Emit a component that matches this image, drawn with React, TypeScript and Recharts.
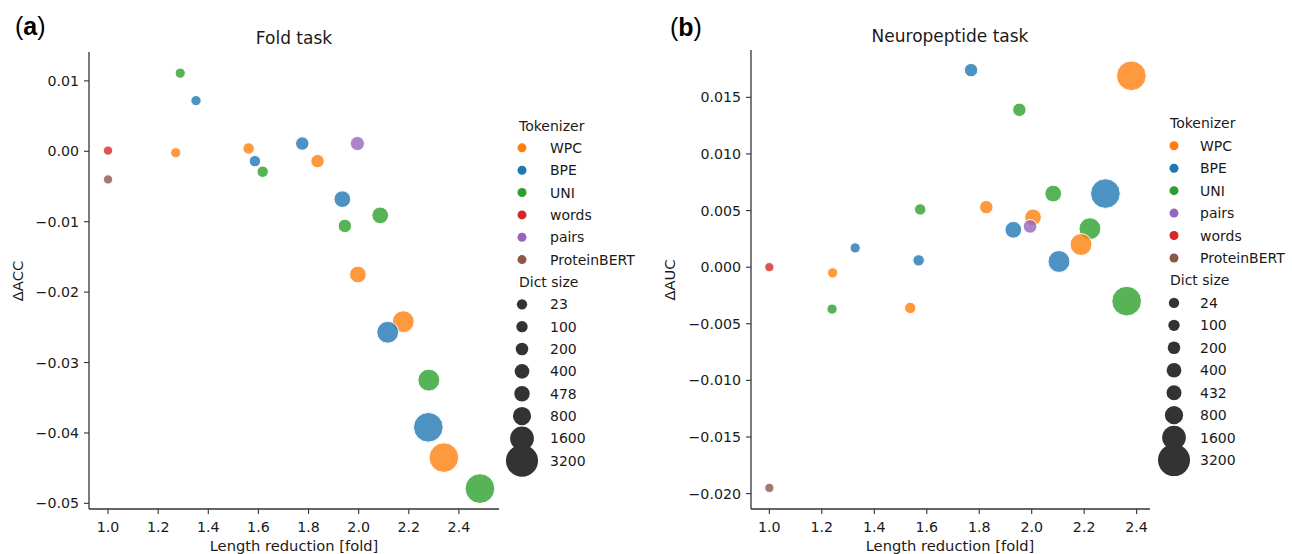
import React from "react";
import { ScatterChart, Scatter, XAxis, YAxis, ZAxis } from "recharts";

const COLORS: Record<string, string> = {
  WPC: "#ff7f0e",
  BPE: "#1f77b4",
  UNI: "#2ca02c",
  words: "#d62728",
  pairs: "#9467bd",
  ProteinBERT: "#8c564b",
};

// drawing order (later = on top)
const DRAW_ORDER = ["UNI", "WPC", "BPE", "words", "pairs", "ProteinBERT"];

const VOCAB = [100, 200, 400, 800, 1600, 3200];

// Fold task
const FOLD_LEGEND = ["WPC", "BPE", "UNI", "words", "pairs", "ProteinBERT"];
const FOLD_SIZES = [23, 100, 200, 400, 478, 800, 1600, 3200];
const FOLD_WPC_X = [1.27, 1.561, 1.836, 1.997, 2.178, 2.34];
const FOLD_WPC_Y = [-0.0002, 0.0004, -0.0014, -0.0175, -0.0242, -0.0435];
const FOLD_BPE_X = [1.351, 1.586, 1.775, 1.935, 2.116, 2.278];
const FOLD_BPE_Y = [0.0072, -0.0014, 0.0011, -0.0068, -0.0257, -0.0392];
const FOLD_UNI_X = [1.288, 1.617, 1.945, 2.086, 2.28, 2.484];
const FOLD_UNI_Y = [0.0111, -0.0029, -0.0106, -0.0091, -0.0325, -0.0479];
const FOLD_WORDS = { x: [1.0], y: [0.0001], z: [23] };
const FOLD_PAIRS = { x: [1.995], y: [0.0011], z: [478] };
const FOLD_PBERT = { x: [1.0], y: [-0.004], z: [23] };
const FOLD_Y_TICKS = [-0.05, -0.04, -0.03, -0.02, -0.01, 0, 0.01];

// Neuropeptide task
const NEURO_LEGEND = ["WPC", "BPE", "UNI", "pairs", "words", "ProteinBERT"];
const NEURO_SIZES = [24, 100, 200, 400, 432, 800, 1600, 3200];
const NEURO_WPC_X = [1.241, 1.537, 1.827, 2.005, 2.188, 2.38];
const NEURO_WPC_Y = [-0.0005, -0.0036, 0.0053, 0.0044, 0.002, 0.0169];
const NEURO_BPE_X = [1.327, 1.569, 1.769, 1.93, 2.104, 2.281];
const NEURO_BPE_Y = [0.0017, 0.0006, 0.0174, 0.0033, 0.0005, 0.0065];
const NEURO_UNI_X = [1.239, 1.575, 1.953, 2.082, 2.222, 2.362];
const NEURO_UNI_Y = [-0.0037, 0.0051, 0.0139, 0.0065, 0.0034, -0.003];
const NEURO_WORDS = { x: [1.0], y: [0.0], z: [24] };
const NEURO_PAIRS = { x: [1.994], y: [0.0036], z: [432] };
const NEURO_PBERT = { x: [1.0], y: [-0.0195], z: [24] };
const NEURO_Y_TICKS = [-0.02, -0.015, -0.01, -0.005, 0, 0.005, 0.01, 0.015];

const X_TICKS = [1.0, 1.2, 1.4, 1.6, 1.8, 2.0, 2.2, 2.4];

const FONT = "DejaVu Sans, sans-serif";
const AXIS_COLOR = "#333";
const TEXT_COLOR = "#1a1a1a";

type Pt = { x: number; y: number; z: number };
const rows = (xs: number[], ys: number[], zs: number[]): Pt[] =>
  xs.map((x, i) => ({ x, y: ys[i], z: zs[i] }));

const fmtY = (d: number) => (v: number) => {
  const s = Math.abs(v).toFixed(d);
  return v < -1e-9 ? "\u2212" + s : s;
};

interface PanelProps {
  left: number;
  width: number;
  margin: { top: number; right: number; bottom: number; left: number };
  yAxisWidth: number;
  xDomain: [number, number];
  yDomain: [number, number];
  yTicks: number[];
  yDecimals: number;
  series: Record<string, Pt[]>;
}

function Panel(p: PanelProps) {
  const tickStyle = { fontSize: 14.2, fill: TEXT_COLOR, fontFamily: FONT };
  return (
    <div style={{ position: "absolute", left: p.left, top: 0 }}>
      <ScatterChart width={p.width} height={554} margin={p.margin}>
        <XAxis
          type="number"
          dataKey="x"
          domain={p.xDomain}
          allowDataOverflow
          ticks={X_TICKS}
          interval={0}
          tickFormatter={(v: number) => v.toFixed(1)}
          height={45}
          tickSize={5}
          tickMargin={8}
          tick={tickStyle}
          stroke={AXIS_COLOR}
          axisLine={{ stroke: AXIS_COLOR, strokeWidth: 1.3 }}
          tickLine={{ stroke: AXIS_COLOR, strokeWidth: 1.1 }}
        />
        <YAxis
          type="number"
          dataKey="y"
          domain={p.yDomain}
          allowDataOverflow
          ticks={p.yTicks}
          interval={0}
          tickFormatter={fmtY(p.yDecimals)}
          width={p.yAxisWidth}
          tickSize={5}
          tickMargin={5}
          tick={tickStyle}
          stroke={AXIS_COLOR}
          axisLine={{ stroke: AXIS_COLOR, strokeWidth: 1.3 }}
          tickLine={{ stroke: AXIS_COLOR, strokeWidth: 1.1 }}
        />
        <ZAxis type="number" dataKey="z" domain={[0, 3200]} range={[63, 691]} />
        {DRAW_ORDER.map((name) => (
          <Scatter
            key={name}
            name={name}
            data={p.series[name]}
            fill={COLORS[name]}
            fillOpacity={0.8}
            stroke="#ffffff"
            strokeWidth={1}
            isAnimationActive={false}
          />
        ))}
      </ScatterChart>
    </div>
  );
}

// legend marker diameter for a dict size
const legendDiameter = (z: number) => Math.sqrt(100 + 0.29 * z);

function Legend({
  titleX,
  markerX,
  labelX,
  rowStart,
  rowStep,
  names,
  sizes,
}: {
  titleX: number;
  markerX: number;
  labelX: number;
  rowStart: number;
  rowStep: number;
  names: string[];
  sizes: number[];
}) {
  const txt = { fontFamily: FONT, fontSize: 14, fill: TEXT_COLOR };
  const rowY = (i: number) => rowStart + rowStep * i;
  return (
    <g>
      <text x={titleX} y={rowY(0) + 5} {...txt}>Tokenizer</text>
      {names.map((n, i) => (
        <g key={n}>
          <circle cx={markerX} cy={rowY(i + 1)} r={4.5} fill={COLORS[n]} />
          <text x={labelX} y={rowY(i + 1) + 5} {...txt}>{n}</text>
        </g>
      ))}
      <text x={titleX} y={rowY(7) + 5} {...txt}>Dict size</text>
      {sizes.map((s, i) => (
        <g key={s}>
          <circle cx={markerX} cy={rowY(i + 8)} r={legendDiameter(s) / 2} fill="#333333" />
          <text x={labelX} y={rowY(i + 8) + 5} {...txt}>{s}</text>
        </g>
      ))}
    </g>
  );
}

export default function App() {
  const foldSeries: Record<string, Pt[]> = {
    WPC: rows(FOLD_WPC_X, FOLD_WPC_Y, VOCAB),
    BPE: rows(FOLD_BPE_X, FOLD_BPE_Y, VOCAB),
    UNI: rows(FOLD_UNI_X, FOLD_UNI_Y, VOCAB),
    words: rows(FOLD_WORDS.x, FOLD_WORDS.y, FOLD_WORDS.z),
    pairs: rows(FOLD_PAIRS.x, FOLD_PAIRS.y, FOLD_PAIRS.z),
    ProteinBERT: rows(FOLD_PBERT.x, FOLD_PBERT.y, FOLD_PBERT.z),
  };
  const neuroSeries: Record<string, Pt[]> = {
    WPC: rows(NEURO_WPC_X, NEURO_WPC_Y, VOCAB),
    BPE: rows(NEURO_BPE_X, NEURO_BPE_Y, VOCAB),
    UNI: rows(NEURO_UNI_X, NEURO_UNI_Y, VOCAB),
    words: rows(NEURO_WORDS.x, NEURO_WORDS.y, NEURO_WORDS.z),
    pairs: rows(NEURO_PAIRS.x, NEURO_PAIRS.y, NEURO_PAIRS.z),
    ProteinBERT: rows(NEURO_PBERT.x, NEURO_PBERT.y, NEURO_PBERT.z),
  };

  const txt = { fontFamily: FONT, fill: TEXT_COLOR };
  const panelLabel = { fontFamily: "Liberation Sans, Arial, sans-serif", fontSize: 25, fill: "#000" };

  return (
    <div style={{ position: "absolute", left: 0, top: 0, width: 1292, height: 554, background: "#fff", overflow: "hidden" }}>
      <Panel
        left={0}
        width={530}
        margin={{ top: 52, right: 31, bottom: 0, left: 0 }}
        yAxisWidth={89}
        xDomain={[0.924, 2.56]}
        yDomain={[-0.0508, 0.0141]}
        yTicks={FOLD_Y_TICKS}
        yDecimals={2}
        series={foldSeries}
      />
      <Panel
        left={650}
        width={520}
        margin={{ top: 50, right: 20, bottom: 0, left: 0 }}
        yAxisWidth={101}
        xDomain={[0.93, 2.451]}
        yDomain={[-0.02136, 0.01918]}
        yTicks={NEURO_Y_TICKS}
        yDecimals={3}
        series={neuroSeries}
      />
      <svg width={1292} height={554} style={{ position: "absolute", left: 0, top: 0, pointerEvents: "none" }}>
        {/* panel labels */}
        <text x={15} y={35} {...panelLabel}>
          (<tspan fontWeight="bold">a</tspan>)
        </text>
        <text x={670} y={36} {...panelLabel}>
          (<tspan fontWeight="bold">b</tspan>)
        </text>

        {/* titles */}
        <text x={294} y={44} textAnchor="middle" fontSize={17} {...txt}>Fold task</text>
        <text x={950} y={42} textAnchor="middle" fontSize={17} {...txt}>Neuropeptide task</text>

        {/* axis labels */}
        <text x={294} y={551} textAnchor="middle" fontSize={14.7} {...txt}>Length reduction [fold]</text>
        <text x={950} y={551} textAnchor="middle" fontSize={14.7} {...txt}>Length reduction [fold]</text>
        <text x={23} y={281} textAnchor="middle" fontSize={14.7} transform="rotate(-90 23 281)" {...txt}>ΔACC</text>
        <text x={675} y={280} textAnchor="middle" fontSize={14.7} transform="rotate(-90 675 280)" {...txt}>ΔAUC</text>

        <Legend
          titleX={519}
          markerX={522}
          labelX={550}
          rowStart={125.5}
          rowStep={22.35}
          names={FOLD_LEGEND}
          sizes={FOLD_SIZES}
        />
        <Legend
          titleX={1170}
          markerX={1174}
          labelX={1200}
          rowStart={123.3}
          rowStep={22.45}
          names={NEURO_LEGEND}
          sizes={NEURO_SIZES}
        />
      </svg>
    </div>
  );
}
